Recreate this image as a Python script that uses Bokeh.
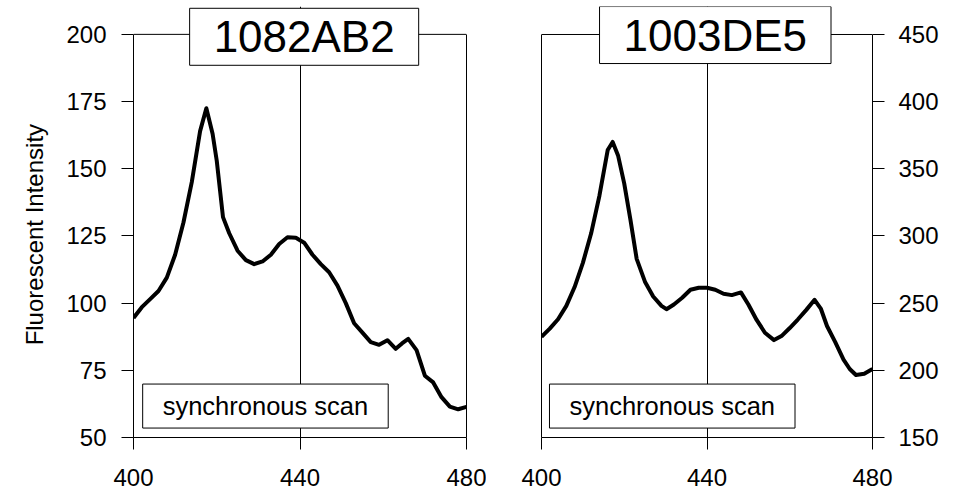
import math
from bokeh.plotting import figure
from bokeh.layouts import row
from bokeh.models import Range1d, FixedTicker, Label, Span, LinearAxis
from bokeh.core.properties import value
from bokeh.embed import file_html
from bokeh.resources import INLINE

# ---- data ----
x_left = [400, 402, 404, 406, 408, 410, 412, 414, 416, 417.5, 419, 420, 421.5, 423, 425, 427,
          429, 431, 433, 435, 437, 439, 441, 443, 445, 447, 449, 451, 453, 455, 457, 459, 461,
          463, 464.5, 466, 468, 470, 472, 474, 476, 478, 480]
y_left = [94.5, 98.5, 101.5, 104.5, 109.5, 118, 130, 145, 164, 172.5, 163, 153, 132, 126, 119.5, 116,
          114.5, 115.5, 118, 122, 124.5, 124.3, 122.5, 118, 114.5, 111.5, 106.5, 100, 92.5, 89, 85.5, 84.5, 86.2,
          83, 85, 86.7, 82.5, 73, 70.5, 65, 61.5, 60.5, 61.4]

x_right = [400, 402, 404, 406, 408, 410, 412, 414, 416, 417.2, 418.5, 420, 421.5, 423, 425, 427,
           429, 430.2, 432, 434, 436, 438, 440, 442, 444, 446, 448.2, 450, 452, 454, 456.2, 458,
           460, 462, 464, 466, 467.5, 469, 471, 473, 474.5, 476, 478, 480]
y_right = [225, 231, 238, 248, 262, 280, 302, 330, 364, 370, 360, 339, 312, 283, 266, 255,
           248, 245.5, 249, 254, 260, 261.5, 261.5, 260, 257, 256, 258, 249, 237.5, 228, 222.5, 225.5,
           231.5, 238, 245, 252.5, 246, 233, 221, 208, 201, 196.5, 197.5, 201]

x_ticks = [400, 440, 480]
y_ticks_left = [50, 75, 100, 125, 150, 175, 200]
y_ticks_right = [150, 200, 250, 300, 350, 400, 450]

title_left = "1082AB2"
title_right = "1003DE5"
note = "synchronous scan"
y_label = "Fluorescent Intensity"

FONT = "Liberation Sans"
H = 494


def style(p, yticks, other_side):
    ymin, ymax = yticks[0], yticks[-1]
    p.background_fill_color = "white"
    p.border_fill_color = "white"
    p.outline_line_color = None
    p.xaxis.ticker = FixedTicker(ticks=x_ticks)
    p.yaxis.ticker = FixedTicker(ticks=yticks)
    p.yaxis.bounds = (ymin, ymax)
    p.xgrid.ticker = FixedTicker(ticks=x_ticks)
    p.xgrid.bounds = (ymin, ymax)
    p.xgrid.grid_line_color = "black"
    p.xgrid.grid_line_width = 1
    p.xgrid.grid_line_alpha = 1
    p.ygrid.visible = False
    for ax in p.axis:
        ax.axis_line_color = "black"
        ax.axis_line_width = 1
        ax.major_tick_line_color = "black"
        ax.major_tick_in = 0
        ax.major_tick_out = 12
        ax.minor_tick_line_color = None
        ax.major_label_text_font = FONT
        ax.major_label_text_font_size = "24px"
        ax.major_label_text_color = "black"
        ax.major_label_standoff = 15
    p.xaxis.major_label_standoff = 19
    # side edge of the plot box (axis without ticks or labels)
    edge = LinearAxis(ticker=FixedTicker(ticks=[]), bounds=(ymin, ymax),
                      axis_line_color="black", axis_line_width=1,
                      major_tick_line_color=None, minor_tick_line_color=None,
                      major_label_text_font_size="0px")
    p.add_layout(edge, other_side)
    # top edge of the plot box
    p.add_layout(Span(location=ymax, dimension="width", line_color="black", line_width=1))


def boxed(p, text, x, y, size, pad):
    lab = Label(x=x, y=y, text=text, text_align="center", text_baseline="middle",
                text_font=FONT, text_font_size=size, text_color="black",
                background_fill_color="white", background_fill_alpha=1,
                border_line_color="black", border_line_width=1, padding=pad)
    p.add_layout(lab)


# narrow strip holding the rotated y-axis title
p0 = figure(width=60, height=H, x_range=Range1d(0, 60), y_range=Range1d(0, H),
            output_backend="svg", toolbar_location=None,
            x_axis_location=None, y_axis_location=None,
            min_border_left=0, min_border_right=0, min_border_top=0, min_border_bottom=0)
p0.outline_line_color = None
p0.background_fill_color = "white"
p0.border_fill_color = "white"
p0.grid.visible = False
p0.text(x=[34], y=[H - 261.5], text=[y_label], angle=math.pi / 2,
        text_align="center", text_baseline="middle",
        text_font=value(FONT), text_font_size=value("24px"), text_color="black")

p1 = figure(width=426, height=H, x_range=Range1d(400, 480), y_range=Range1d(50, 210.37),
            output_backend="svg", toolbar_location=None,
            min_border_left=73, min_border_right=20, min_border_top=6, min_border_bottom=55)
style(p1, y_ticks_left, "right")
p1.line(x_left, y_left, line_color="black", line_width=4, line_join="round")
boxed(p1, title_left, 441, 199.1, "44px", (24, 4))
boxed(p1, note, 431.7, 61.7, "25.5px", (20, 8))

p2 = figure(width=466, height=H, x_range=Range1d(400, 480), y_range=Range1d(150, 470.84),
            output_backend="svg", toolbar_location=None, y_axis_location="right",
            min_border_left=55, min_border_right=80, min_border_top=6, min_border_bottom=57)
style(p2, y_ticks_right, "left")
p2.yaxis.major_label_standoff = 14
p2.line(x_right, y_right, line_color="black", line_width=4, line_join="round")
boxed(p2, title_right, 442, 449.6, "44px", (24, 4))
boxed(p2, note, 431.6, 173.4, "25.5px", (20, 8))

layout = row(p0, p1, p2)
open("out.html", "w").write(file_html(layout, INLINE))
